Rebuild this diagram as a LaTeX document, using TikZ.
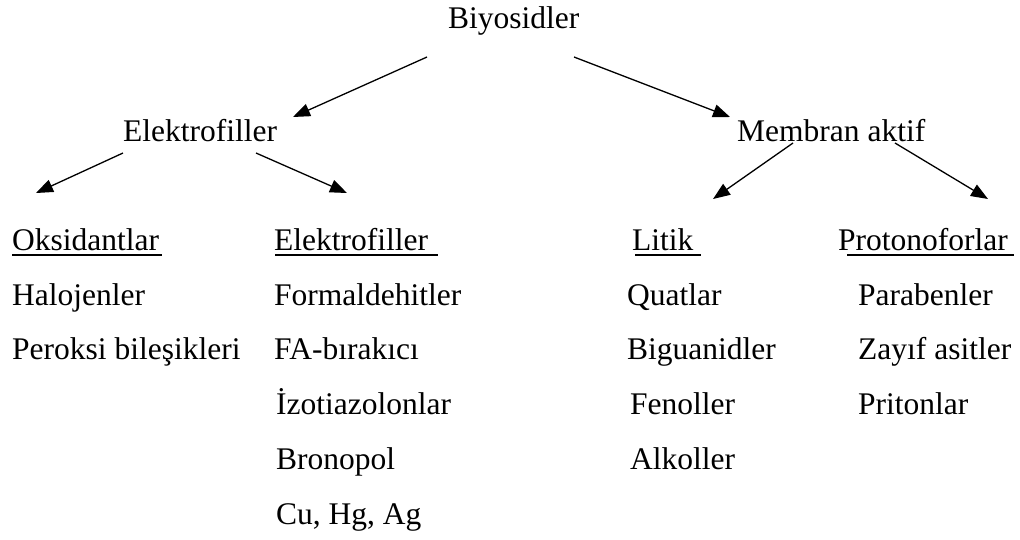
\documentclass[tikz,border=0pt]{standalone}
\usepackage{fontspec}
\setmainfont{Liberation Serif}
\usetikzlibrary{arrows.meta}
\begin{document}
\begin{tikzpicture}[x=1pt,y=-1pt,
  lbl/.style={anchor=base west,inner sep=0pt,font=\fontsize{31.5}{38}\selectfont},
  arr/.style={-{Triangle[length=17pt,width=13pt]},line width=1.3pt},
  uline/.style={line width=1.2pt}]
\useasboundingbox (0,0) rectangle (1020,539);
% top
\node[lbl] (bio) at (448,28) {Biyosidler};
\node[lbl] (elk) at (123,141) {Elektrofiller};
\node[lbl] (mem) at (737,141) {Membran aktif};
% column 1
\node[lbl] (oks) at (12,250) {Oksidantlar};
\node[lbl] (hal) at (12,305) {Halojenler};
\node[lbl] (per) at (12,359) {Peroksi bileşikleri};
% column 2
\node[lbl] (elk2) at (274,250) {Elektrofiller};
\node[lbl] (for) at (274,305) {Formaldehitler};
\node[lbl] (fab) at (274,359) {FA-bırakıcı};
\node[lbl] (izo) at (276,414) {İzotiazolonlar};
\node[lbl] (bro) at (276,469) {Bronopol};
\node[lbl] (cu) at (276,524) {Cu, Hg, Ag};
% column 3
\node[lbl] (lit) at (632,250) {Litik};
\node[lbl] (qua) at (627,305) {Quatlar};
\node[lbl] (big) at (627,359) {Biguanidler};
\node[lbl] (fen) at (630,414) {Fenoller};
\node[lbl] (alk) at (630,469) {Alkoller};
% column 4
\node[lbl] (pro) at (838,250) {Protonoforlar};
\node[lbl] (par) at (858,305) {Parabenler};
\node[lbl] (zay) at (858,359) {Zayıf asitler};
\node[lbl] (pri) at (858,414) {Pritonlar};
% underlines
\draw[uline] (12,255) -- (162,255);
\draw[uline] (275,255) -- (438,255);
\draw[uline] (635,255) -- (701,255);
\draw[uline] (847,255) -- (1014,255);
% arrow endpoints
\coordinate (b1) at (427,57);  \coordinate (e0) at (293,117);
\coordinate (b2) at (574,57);  \coordinate (m0) at (730,117);
\coordinate (e1) at (123,153); \coordinate (o0) at (36,193);
\coordinate (e2) at (256,153); \coordinate (k0) at (347,193);
\coordinate (m1) at (793,143); \coordinate (l0) at (713,199);
\coordinate (m2) at (895,143); \coordinate (p0) at (988,199);
\draw[arr] (b1) -- (e0);
\draw[arr] (b2) -- (m0);
\draw[arr] (e1) -- (o0);
\draw[arr] (e2) -- (k0);
\draw[arr] (m1) -- (l0);
\draw[arr] (m2) -- (p0);
\end{tikzpicture}
\end{document}
